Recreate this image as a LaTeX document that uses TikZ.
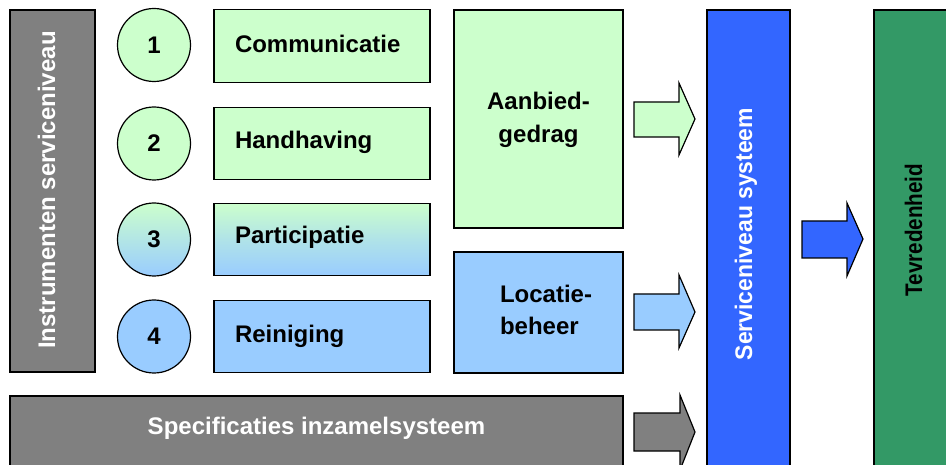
\documentclass[tikz,border=0pt]{standalone}
\usepackage{fontspec}
\setmainfont{Liberation Sans}
\definecolor{lgreen}{HTML}{CCFFCC}
\definecolor{lblue}{HTML}{99CCFF}
\definecolor{dgrey}{HTML}{808080}
\definecolor{sblue}{HTML}{3366FF}
\definecolor{sgreen}{HTML}{339966}
\begin{document}
\begin{tikzpicture}[x=1pt,y=-1pt,line width=1.2pt,
  font=\bfseries\fontsize{24}{32.5}\selectfont,
  box/.style={draw=black,rectangle,inner sep=0pt,outer sep=0pt},
  circ/.style={draw=black,circle,minimum size=73pt,inner sep=0pt},
  txt/.style={inner sep=0pt,outer sep=0pt},
  barrow/.style={draw=black,line join=miter}]
\useasboundingbox (0,0) rectangle (946,465);

% left grey bar
\node[box,fill=dgrey,minimum width=85pt,minimum height=362pt] (instr) at (52.5,191) {};
\node[txt,text=white,rotate=90,anchor=base] (tinstr) at (55,190) {Instrumenten serviceniveau};

% circles
\node[circ,fill=lgreen] (c1) at (154,45) {1};
\node[circ,fill=lgreen] (c2) at (154,143.5) {2};
\node[circ,top color=lgreen,bottom color=lblue] (c3) at (154,239.5) {3};
\node[circ,fill=lblue] (c4) at (154,336.5) {4};

% instrument boxes
\node[box,fill=lgreen,minimum width=216pt,minimum height=72.5pt] (comm) at (322,46) {};
\node[box,fill=lgreen,minimum width=216pt,minimum height=72.5pt] (hand) at (322,143.5) {};
\node[box,top color=lgreen,bottom color=lblue,middle color=lblue!55!lgreen,minimum width=216pt,minimum height=72.5pt] (part) at (322,239.5) {};
\node[box,fill=lblue,minimum width=216pt,minimum height=72.5pt] (rein) at (322,336.5) {};
\node[txt,anchor=base west] (tcomm) at (235,53) {Communicatie};
\node[txt,anchor=base west] (thand) at (235,149) {Handhaving};
\node[txt,anchor=base west] (tpart) at (235,244) {Participatie};
\node[txt,anchor=base west] (trein) at (235,343) {Reiniging};

% middle boxes
\node[box,fill=lgreen,minimum width=169pt,minimum height=218pt] (aanb) at (538.5,119) {};
\node[txt,align=center] (taanb) at (538.5,120) {Aanbied-\\gedrag};
\node[box,fill=lblue,minimum width=169pt,minimum height=121pt] (loc) at (538.5,312.5) {};
\node[txt,align=left,anchor=west] (tloc) at (500,310) {Locatie-\\beheer};

% bottom grey bar
\node[box,fill=dgrey,minimum width=613pt,minimum height=90pt] (spec) at (316.5,441) {};
\node[txt,text=white,anchor=base] (tspec) at (316.5,434) {Specificaties inzamelsysteem};

% blue bar
\node[box,fill=sblue,minimum width=83pt,minimum height=480pt] (serv) at (748.5,250) {};
\node[txt,text=white,rotate=90,anchor=base] (tserv) at (752,234) {\scalebox{0.955}[1]{Serviceniveau systeem}};

% green bar
\node[box,fill=sgreen,minimum width=90pt,minimum height=480pt] (tevr) at (919,250) {};
\node[txt,text=black,rotate=90,anchor=base] (ttevr) at (922,230) {\scalebox{0.86}[1]{Tevredenheid}};

% block arrows
\draw[barrow,fill=lgreen] (634,102) -- (679,102) -- (679,83) -- (695,119) -- (679,155) -- (679,137) -- (634,137) -- cycle;
\draw[barrow,fill=lblue] (634,294) -- (679,294) -- (679,275) -- (695,312) -- (679,348) -- (679,330) -- (634,330) -- cycle;
\draw[barrow,fill=dgrey] (634,413) -- (680,413) -- (680,395) -- (695,432) -- (680,470) -- (680,451) -- (634,451) -- cycle;
\draw[barrow,fill=sblue] (802,221) -- (847,221) -- (847,203) -- (863,239) -- (847,276) -- (847,258) -- (802,258) -- cycle;
\end{tikzpicture}
\end{document}
